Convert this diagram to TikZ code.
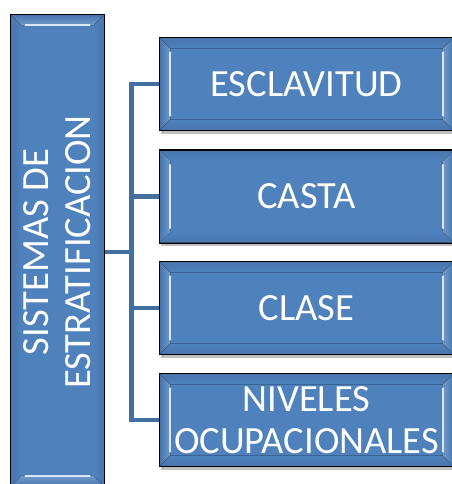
\documentclass[tikz,border=0pt]{standalone}
\usepackage{fontspec}
\setmainfont{Carlito}
\usetikzlibrary{shadows}
\definecolor{boxblue}{HTML}{4F81BD}
\definecolor{hilite}{HTML}{D8E8FB}
\definecolor{darkbev}{HTML}{4876AD}
\definecolor{linkblue}{HTML}{41709F}
\begin{document}
\begin{tikzpicture}[x=1pt,y=-1pt,
  basebox/.style={draw=black, line width=1.4pt, fill=boxblue, inner sep=0pt,
    drop shadow={shadow xshift=1pt, shadow yshift=-3.5pt, opacity=.25, fill=black}},
  rbox/.style={basebox, minimum width=293pt, minimum height=92pt, text=white,
    font=\fontsize{38.5}{42}\selectfont, align=center},
  lbox/.style={basebox, minimum width=93pt, minimum height=471pt},
  vtext/.style={text=white, rotate=90, align=center, font=\fontsize{38.5}{42}\selectfont},
  link/.style={draw=linkblue, line width=4.5pt, line join=miter},
  shine/.style={draw=hilite, line width=1.8pt, line cap=round}
]
\useasboundingbox (0,0) rectangle (451,484);
\node[lbox] (sys) at (57.5,250.5) {};
\node[rbox] (b1) at (306.5,84) {ESCLAVITUD};
\node[rbox] (b2) at (306.5,196.5) {CASTA};
\node[rbox] (b3) at (306.5,308) {CLASE};
\node[rbox] (b4) at (306.5,420) {NIVELES\\OCUPACIONALES};
% bevels of the right boxes
\foreach \n in {b1,b2,b3,b4}{
  \fill[left color=darkbev, right color=boxblue!80!white]
    ([shift={(0.7,0.7)}]\n.north west) -- ([shift={(11,11)}]\n.north west) --
    ([shift={(11,-11)}]\n.south west) -- ([shift={(0.7,-0.7)}]\n.south west) -- cycle;
  \fill[left color=boxblue!80!white, right color=darkbev]
    ([shift={(-0.7,0.7)}]\n.north east) -- ([shift={(-11,11)}]\n.north east) --
    ([shift={(-11,-11)}]\n.south east) -- ([shift={(-0.7,-0.7)}]\n.south east) -- cycle;
  \fill[top color=darkbev, bottom color=boxblue]
    ([shift={(0.7,0.7)}]\n.north west) -- ([shift={(-0.7,0.7)}]\n.north east) --
    ([shift={(-11,11)}]\n.north east) -- ([shift={(11,11)}]\n.north west) -- cycle;
  \fill[top color=boxblue, bottom color=darkbev]
    ([shift={(0.7,-0.7)}]\n.south west) -- ([shift={(-0.7,-0.7)}]\n.south east) --
    ([shift={(-11,-11)}]\n.south east) -- ([shift={(11,-11)}]\n.south west) -- cycle;
  \draw[shine] ([shift={(11,15)}]\n.north west) -- ([shift={(11,-15)}]\n.south west);
  \draw[shine] ([shift={(-11,15)}]\n.north east) -- ([shift={(-11,-15)}]\n.south east);
  \draw[black, line width=1.4pt] (\n.north west) rectangle (\n.south east);
}
% bevels of the left box
\fill[top color=darkbev, bottom color=boxblue!80!white]
  ([shift={(0.7,0.7)}]sys.north west) -- ([shift={(-0.7,0.7)}]sys.north east) --
  ([shift={(-11,11)}]sys.north east) -- ([shift={(11,11)}]sys.north west) -- cycle;
\fill[top color=boxblue!80!white, bottom color=darkbev]
  ([shift={(0.7,-0.7)}]sys.south west) -- ([shift={(-0.7,-0.7)}]sys.south east) --
  ([shift={(-11,-11)}]sys.south east) -- ([shift={(11,-11)}]sys.south west) -- cycle;
\fill[left color=darkbev, right color=boxblue]
  ([shift={(0.7,0.7)}]sys.north west) -- ([shift={(11,11)}]sys.north west) --
  ([shift={(11,-11)}]sys.south west) -- ([shift={(0.7,-0.7)}]sys.south west) -- cycle;
\fill[left color=boxblue, right color=darkbev]
  ([shift={(-0.7,0.7)}]sys.north east) -- ([shift={(-11,11)}]sys.north east) --
  ([shift={(-11,-11)}]sys.south east) -- ([shift={(-0.7,-0.7)}]sys.south east) -- cycle;
\draw[shine] ([shift={(15,11)}]sys.north west) -- ([shift={(-15,11)}]sys.north east);
\draw[shine] ([shift={(15,-11)}]sys.south west) -- ([shift={(-15,-11)}]sys.south east);
\draw[black, line width=1.4pt] (sys.north west) rectangle (sys.south east);
\node[vtext] (systxt) at (57,252) {SISTEMAS DE\\ESTRATIFICACION};
% connectors
\coordinate (hub) at (131.5,252);
\draw[link] ([xshift=0.7pt]sys.east |- hub) -- (hub);
\draw[link] ([xshift=-0.7pt]b1.west) -- (hub |- b1.west) -- (hub |- b4.west) -- ([xshift=-0.7pt]b4.west);
\draw[link] (hub |- b2.west) -- ([xshift=-0.7pt]b2.west);
\draw[link] (hub |- b3.west) -- ([xshift=-0.7pt]b3.west);
\end{tikzpicture}
\end{document}
